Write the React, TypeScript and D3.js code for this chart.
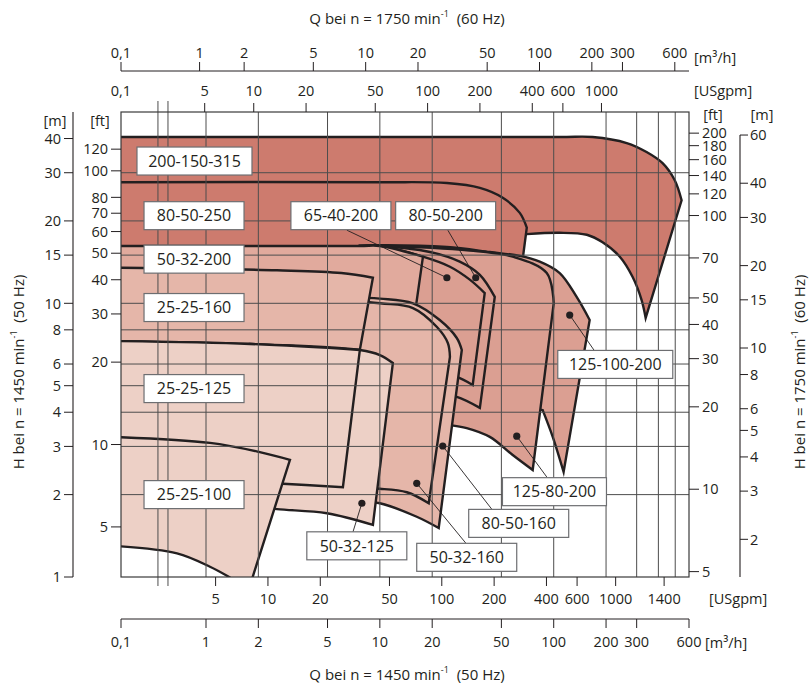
import React from "react";
import * as d3 from "d3";

// speed conversion 1450 -> 1750 1/min, units
const speedRatio = 1750 / 1450;
const headRatio = speedRatio * speedRatio;
const gpmPerM3h = 4.402868;
const mPerFt = 0.3048;

// axis ticks
const flowTicks = [0.1, 1, 2, 5, 10, 20, 50, 100, 200, 300, 600];
const flowTickLabels = ["0,1", "1", "2", "5", "10", "20", "50", "100", "200", "300", "600"];
const gpmTopTicks = [0.1, 5, 10, 20, 50, 100, 200, 400, 600, 1000];
const gpmTopLabels = ["0,1", "5", "10", "20", "50", "100", "200", "400", "600", "1000"];
const gpmBottomTicks = [5, 10, 20, 50, 100, 200, 400, 600, 1000, 1900];
const gpmBottomLabels = ["5", "10", "20", "50", "100", "200", "400", "600", "1000", "1400"];
const mLeftTicks = [40, 30, 20, 15, 10, 8, 6, 5, 4, 3, 2, 1];
const ftLeftTicks = [120, 100, 80, 70, 60, 50, 40, 30, 20, 10, 5];
const ftRightTicks = [200, 180, 160, 140, 120, 100, 70, 50, 40, 30, 20, 10, 5];
const mRightTicks = [60, 40, 30, 20, 15, 10, 8, 6, 5, 4, 3, 2];
const flowGrid = [1, 2, 5, 10, 20, 50, 100, 200, 300, 400, 500];
const headGrid = [30, 20, 15, 10, 8, 6, 5, 4, 3, 2];
const axisBreaks = [0.272, 0.357];

// pump fields: edges of [Q m3/h, H m] at 1450 1/min
const f200_150_315 = [
  [[0.08, 40.5], [108, 40.5], [167.5, 40.5], [263, 38.5], [342, 35.7], [423, 32.5], [496, 28.2], [544, 23.8]],
  [[544, 23.8], [338, 8.84]],
  [[338, 8.84], [320, 10.3], [284, 12.5], [240, 14.8], [191, 16.7], [155, 17.8], [108, 18.1], [70, 17.9]],
  [[70, 17.9], [0.08, 17.6]],
];
const f80_50_250 = [
  [[0.08, 27.7], [10, 27.7], [24.3, 27.5], [37.6, 26.4], [50.9, 24.3], [63.8, 21.4], [70, 18.9]],
  [[70, 18.9], [66.4, 14.6]],
  [[66.4, 14.6], [42, 15.1], [20, 15.4], [10, 15.6], [0.08, 15.6]],
];
const f125_100_200 = [
  [[7.67, 16.2], [10, 16.3], [24.3, 16.06], [42.9, 15.4], [63.8, 14.9], [83.1, 14.2], [108.3, 12.9], [135.5, 10.55], [161, 8.69]],
  [[161, 8.69], [114, 2.42]],
  [[114, 2.42], [98.7, 3.25], [86.4, 4.07]],
  [[86.4, 4.07], [50, 4.3], [7.67, 4.43]],
];
const f125_80_200 = [
  [[7.67, 16.2], [10, 16.2], [32.9, 15.6], [58.1, 14.8], [91.2, 12.9], [100, 10.0]],
  [[100, 10.0], [75.7, 2.46]],
  [[75.7, 2.46], [58.1, 2.79], [42.9, 3.25], [31.6, 3.5], [25.3, 3.59]],
  [[25.3, 3.59], [13, 3.75], [7.67, 3.8]],
];
const f80_50_200 = [
  [[7.67, 16.2], [10, 16.2], [19.4, 15.4], [28.8, 14.2], [37.6, 12.7], [45.8, 10.55]],
  [[45.8, 10.55], [37.6, 4.15]],
  [[37.6, 4.15], [27.7, 4.55], [22.1, 4.65], [7.67, 5.03]],
];
const f65_40_200 = [
  [[7.67, 16.2], [10, 16.2], [17.7, 14.8], [25.3, 13.6], [32.9, 12.2], [40.1, 10.9]],
  [[40.1, 10.9], [34.2, 5.03]],
  [[34.2, 5.03], [27.7, 5.38], [22.1, 5.56], [7.67, 5.95]],
];
const f50_32_200 = [
  [[0.08, 16.2], [7.67, 16.2], [10, 16.2], [17.7, 14.8]],
  [[17.7, 14.8], [16.1, 9.69], [15.7, 8.69]],
  [[15.7, 8.69], [8.88, 9.45], [0.08, 10.3]],
];
const f80_50_160 = [
  [[3.47, 10.6], [10, 10.4], [15.5, 10.0], [22.1, 8.69], [27.7, 7.47], [29.6, 6.75]],
  [[29.6, 6.75], [21.8, 1.51]],
  [[21.8, 1.51], [16.3, 1.66], [10, 1.86], [5.89, 1.93], [3.47, 1.99]],
];
const f50_32_160 = [
  [[3.47, 10.45], [10, 10.0], [15.5, 9.61], [21.3, 8.19], [24.6, 7.16], [25.3, 6.37]],
  [[25.3, 6.37], [19.1, 1.86]],
  [[19.1, 1.86], [14.3, 2.04], [10, 2.1], [5.89, 2.11], [3.47, 2.13]],
];
const f25_25_160 = [
  [[0.08, 13.5], [2.56, 13.2], [6.0, 12.9], [9.12, 12.4]],
  [[9.12, 12.4], [7.67, 6.75]],
  [[7.67, 6.75], [1.79, 7.1], [0.08, 7.28]],
];
const f50_32_125 = [
  [[1.79, 7.1], [7.67, 6.75], [10, 6.47], [11.88, 6.05]],
  [[11.88, 6.05], [9.12, 1.55]],
  [[9.12, 1.55], [4.96, 1.71], [2.56, 1.77], [1.79, 1.82]],
];
const f25_25_125 = [
  [[0.08, 7.28], [1.79, 7.1], [7.67, 6.75]],
  [[7.67, 6.75], [6.13, 2.13]],
  [[6.13, 2.13], [2.77, 2.19], [0.85, 2.26], [0.08, 2.3]],
];
const f25_25_100 = [
  [[0.08, 3.25], [1.054, 3.09], [2.04, 2.86], [3.04, 2.68]],
  [[3.04, 2.68], [1.76, 0.9]],
  [[1.76, 0.9], [1.32, 1.01], [1.054, 1.09], [0.456, 1.22], [0.08, 1.3]],
];

// labels (box centre in Q,H)
const labelNames = ["200-150-315", "80-50-250", "50-32-200", "65-40-200", "80-50-200", "25-25-160", "25-25-125", "25-25-100", "50-32-125", "50-32-160", "80-50-160", "125-80-200", "125-100-200"];
const labelAt = [[0.732, 33.1], [0.723, 20.9], [0.723, 14.5], [5.97, 20.9], [23.9, 20.9], [0.723, 9.65], [0.723, 4.88], [0.723, 2.0], [7.37, 1.3], [31.6, 1.18], [62.9, 1.57], [101, 2.05], [226, 5.98]];
// leader lines: dot -> label
const leaderDot = [[24.3, 12.4], [35.6, 12.4], [123.6, 9.06], [61.3, 3.27], [23.0, 3.01], [16.3, 2.2], [7.88, 1.86]];
const leaderEnd = [[6.46, 18.5], [24.6, 18.5], [172, 6.69], [91.2, 2.32], [44.0, 1.77], [31.2, 1.33], [7.0, 1.46]];

export default function App() {
  const left = 121, right = 689, top = 112, bottom = 577, breakX = 206;
  const ink = "#231f20";
  const font = "'Open Sans', sans-serif";

  const x50 = d3.scaleLog().domain([0.1, 1, 600]).range([left, breakX, right]);
  const x60 = d3.scaleLog().domain([0.1, speedRatio, 600 * speedRatio]).range([left, breakX, right]);
  const g50 = d3.scaleLog().domain([0.1, gpmPerM3h, 600 * gpmPerM3h]).range([left, breakX, right]);
  const g60 = d3.scaleLog().domain([0.1, gpmPerM3h * speedRatio, 600 * gpmPerM3h * speedRatio]).range([left, breakX, right]);
  const y50 = d3.scaleLog().domain([1, 50]).range([bottom, top]);
  const yFt50 = (v) => y50(v * mPerFt);
  const y60 = (v) => y50(v / headRatio);
  const yFt60 = (v) => y50((v * mPerFt) / headRatio);

  const line = d3.line<number[]>().x((d) => x50(d[0])).y((d) => y50(d[1])).curve(d3.curveCatmullRom.alpha(0.5));
  const fieldPath = (edges) =>
    edges.map((e, i) => { const s = line(e) || ""; return i === 0 ? s : "L" + s.slice(1); }).join("") + "Z";

  const dark = "#cd7b6e", mid = "#db9f92", midLight = "#e1aa9d", light = "#e5b6a9", pale = "#edd0c6";
  const fields = [
    [f200_150_315, dark], [f80_50_250, dark],
    [f125_100_200, mid], [f125_80_200, mid], [f80_50_200, mid], [f65_40_200, mid], [f50_32_200, midLight],
    [f80_50_160, light], [f50_32_160, light], [f25_25_160, light],
    [f50_32_125, pale], [f25_25_125, pale], [f25_25_100, pale],
  ];

  const boxW = (s) => (s.length >= 11 ? 115 : s.length === 10 ? 104 : 100);
  const fs = 14.5;

  return (
    <div style={{ position: "absolute", left: 0, top: 0 }}>
      <svg width={812} height={686} style={{ display: "block", background: "#fff", fontFamily: font }}>
        <defs>
          <clipPath id="plotClip">
            <rect x={left} y={top} width={right - left} height={bottom - top} />
          </clipPath>
        </defs>

        {/* pump fields */}
        <g clipPath="url(#plotClip)">
          {fields.map(([edges, fill], i) => (
            <path key={i} d={fieldPath(edges)} fill={fill as string} stroke={ink} strokeWidth={2.4} strokeLinejoin="miter" strokeMiterlimit={10} />
          ))}
        </g>

        {/* grid */}
        <g stroke="#4d4d4d" strokeWidth={1}>
          {flowGrid.map((q) => (
            <line key={"gx" + q} x1={x50(q)} x2={x50(q)} y1={top} y2={bottom} />
          ))}
          {headGrid.map((h) => (
            <line key={"gy" + h} x1={left} x2={right} y1={y50(h)} y2={y50(h)} />
          ))}
          {axisBreaks.map((q) => (
            <line key={"br" + q} x1={x50(q)} x2={x50(q)} y1={top - 11} y2={bottom + 9} />
          ))}
        </g>
        <rect x={left} y={top} width={right - left} height={bottom - top} fill="none" stroke="#3a3a3a" strokeWidth={1.2} />

        {/* leaders */}
        {leaderDot.map((d, i) => (
          <g key={"ld" + i}>
            <line x1={x50(d[0])} y1={y50(d[1])} x2={x50(leaderEnd[i][0])} y2={y50(leaderEnd[i][1])} stroke={ink} strokeWidth={0.9} />
            <circle cx={x50(d[0])} cy={y50(d[1])} r={3.6} fill={ink} />
          </g>
        ))}

        {/* labels */}
        {labelNames.map((s, i) => {
          const cx = x50(labelAt[i][0]), cy = y50(labelAt[i][1]), w = boxW(s);
          return (
            <g key={s}>
              <rect x={cx - w / 2} y={cy - 14} width={w} height={28} fill="#fff" stroke="#6d6e71" strokeWidth={1.2} />
              <text x={cx} y={cy} dy="0.36em" textAnchor="middle" fontSize={16} fill={ink}>{s}</text>
            </g>
          );
        })}

        {/* top axes (60 Hz) */}
        <g fill={ink} fontSize={fs}>
          <line x1={left} x2={right} y1={71} y2={71} stroke={ink} strokeWidth={1} />
          {flowTicks.map((v, i) => (
            <g key={"tq" + v}>
              <line x1={x60(v)} x2={x60(v)} y1={62} y2={71} stroke={ink} strokeWidth={1} />
              <text x={x60(v)} y={58} textAnchor="middle">{flowTickLabels[i]}</text>
            </g>
          ))}
          <text x={694} y={63}>[m³/h]</text>
          {gpmTopTicks.map((v, i) => (
            <g key={"tg" + v}>
              {v > 1 && <line x1={g60(v)} x2={g60(v)} y1={103} y2={top} stroke={ink} strokeWidth={1} />}
              <text x={g60(v)} y={96} textAnchor="middle">{gpmTopLabels[i]}</text>
            </g>
          ))}
          <text x={694} y={96}>[USgpm]</text>
          <text x={407} y={24} textAnchor="middle" fontSize={15} style={{ whiteSpace: "pre" }}>
            Q bei n = 1750 min<tspan fontSize={9} dy={-7}>-1</tspan><tspan dy={7}>{"  (60 Hz)"}</tspan>
          </text>
        </g>

        {/* bottom axes (50 Hz) */}
        <g fill={ink} fontSize={fs}>
          {gpmBottomTicks.map((v, i) => (
            <g key={"bg" + v}>
              <line x1={g50(v)} x2={g50(v)} y1={bottom} y2={586} stroke={ink} strokeWidth={1} />
              <text x={g50(v)} y={604} textAnchor="middle">{gpmBottomLabels[i]}</text>
            </g>
          ))}
          <text x={709} y={604}>[USgpm]</text>
          <line x1={left} x2={right} y1={619} y2={619} stroke={ink} strokeWidth={1} />
          {flowTicks.map((v, i) => (
            <g key={"bq" + v}>
              <line x1={x50(v)} x2={x50(v)} y1={619} y2={628} stroke={ink} strokeWidth={1} />
              <text x={x50(v)} y={647} textAnchor="middle">{flowTickLabels[i]}</text>
            </g>
          ))}
          <text x={705} y={648}>[m³/h]</text>
          <text x={407} y={680} textAnchor="middle" fontSize={15} style={{ whiteSpace: "pre" }}>
            Q bei n = 1450 min<tspan fontSize={9} dy={-7}>-1</tspan><tspan dy={7}>{"  (50 Hz)"}</tspan>
          </text>
        </g>

        {/* left axes (50 Hz) */}
        <g fill={ink} fontSize={fs}>
          <line x1={73} x2={73} y1={top} y2={bottom} stroke={ink} strokeWidth={1.1} />
          {mLeftTicks.map((v) => (
            <g key={"lm" + v}>
              <line x1={64} x2={73} y1={y50(v)} y2={y50(v)} stroke={ink} strokeWidth={1} />
              <text x={61} y={y50(v)} dy="0.36em" textAnchor="end">{v}</text>
            </g>
          ))}
          {ftLeftTicks.map((v) => (
            <g key={"lf" + v}>
              <line x1={111} x2={left} y1={yFt50(v)} y2={yFt50(v)} stroke={ink} strokeWidth={1} />
              <text x={108} y={yFt50(v)} dy="0.36em" textAnchor="end">{v}</text>
            </g>
          ))}
          <text x={55} y={126} textAnchor="middle">[m]</text>
          <text x={100} y={126} textAnchor="middle">[ft]</text>
          <text transform="translate(24,372) rotate(-90)" textAnchor="middle" fontSize={15} style={{ whiteSpace: "pre" }}>
            H bei n = 1450 min<tspan fontSize={9} dy={-7}>-1</tspan><tspan dy={7}>{"  (50 Hz)"}</tspan>
          </text>
        </g>

        {/* right axes (60 Hz) */}
        <g fill={ink} fontSize={fs}>
          {ftRightTicks.map((v) => (
            <g key={"rf" + v}>
              <line x1={right} x2={699} y1={yFt60(v)} y2={yFt60(v)} stroke={ink} strokeWidth={1} />
              <text x={702} y={yFt60(v)} dy="0.36em">{v}</text>
            </g>
          ))}
          <line x1={740} x2={740} y1={y60(60)} y2={bottom} stroke={ink} strokeWidth={1.1} />
          {mRightTicks.map((v) => (
            <g key={"rm" + v}>
              <line x1={740} x2={748} y1={y60(v)} y2={y60(v)} stroke={ink} strokeWidth={1} />
              <text x={750} y={y60(v)} dy="0.36em">{v}</text>
            </g>
          ))}
          <text x={713} y={120} textAnchor="middle">[ft]</text>
          <text x={762} y={120} textAnchor="middle">[m]</text>
          <text transform="translate(805,372) rotate(-90)" textAnchor="middle" fontSize={15} style={{ whiteSpace: "pre" }}>
            H bei n = 1750 min<tspan fontSize={9} dy={-7}>-1</tspan><tspan dy={7}>{"  (60 Hz)"}</tspan>
          </text>
        </g>
      </svg>
    </div>
  );
}
